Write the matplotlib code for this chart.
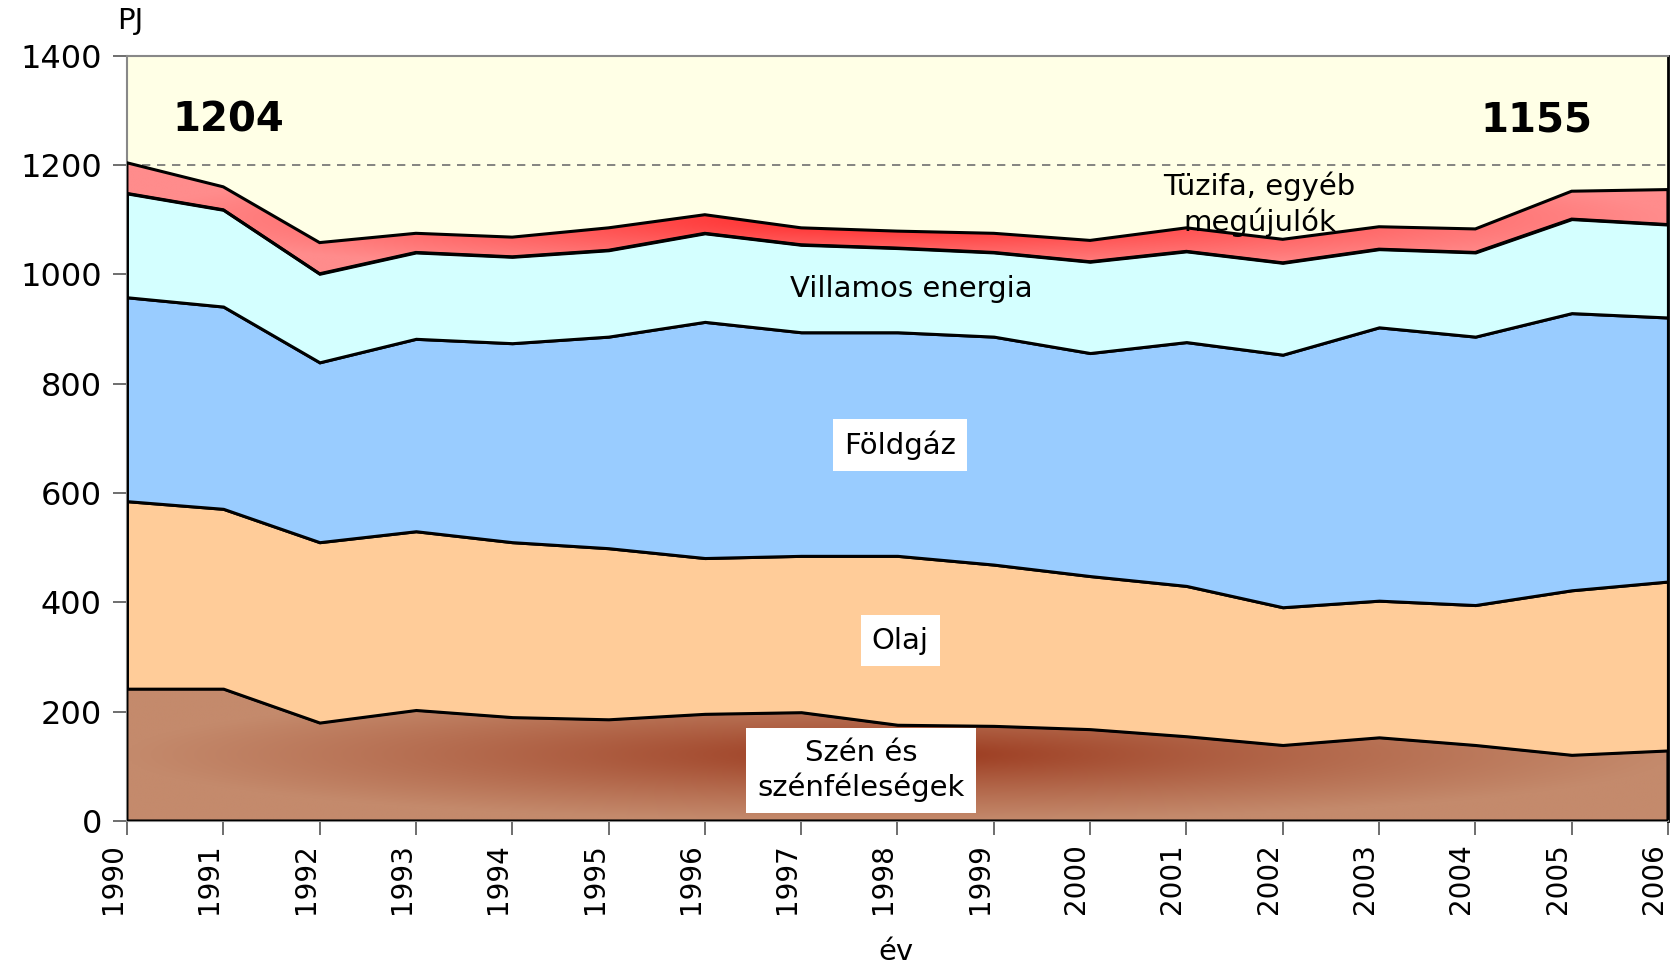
import numpy as np
import matplotlib
matplotlib.use("Agg")
import matplotlib.pyplot as plt
from matplotlib.colors import to_rgb

# adatok (PJ)
years = list(range(1990, 2007))
szen = [242, 242, 180, 203, 190, 186, 196, 199, 176, 174, 168, 155, 139, 153, 139, 121, 129]
olaj = [343, 329, 330, 327, 320, 313, 285, 286, 309, 295, 280, 275, 252, 250, 256, 301, 309]
foldgaz = [373, 370, 329, 352, 364, 387, 432, 409, 409, 417, 408, 446, 462, 500, 491, 507, 483]
villamos = [190, 177, 162, 158, 158, 158, 162, 160, 154, 154, 167, 166, 168, 143, 154, 172, 170]
tuzifa = [56, 42, 57, 35, 36, 41, 34, 31, 31, 35, 39, 43, 43, 41, 43, 51, 64]

label_first = "1204"
label_last = "1155"

x = np.array(years, dtype=float)
layers = [np.array(s, dtype=float) for s in (szen, olaj, foldgaz, villamos, tuzifa)]
tops = np.cumsum(layers, axis=0)
bottoms = np.vstack([np.zeros_like(x), tops[:-1]])

fig = plt.figure(figsize=(16.77, 9.71), dpi=100)
ax = fig.add_axes([0.0757, 0.1545, 0.9189, 0.7882])
ax.set_facecolor("#FFFFE6")

EDGE = dict(edgecolor="black", linewidth=2.2, joinstyle="miter")


def radial_fill(y1, y2, c_center, c_edge, power=1.0):
    poly = ax.fill_between(x, y1, y2, facecolor="none", zorder=4, **EDGE)
    ymin, ymax = y1.min(), y2.max()
    cx, cy = x.mean(), (ymin + ymax) / 2
    rx, ry = (x[-1] - x[0]) / 2, (ymax - ymin) / 2
    gx = np.linspace(x[0], x[-1], 500)
    gy = np.linspace(ymin, ymax, 300)
    GX, GY = np.meshgrid(gx, gy)
    t = np.clip(np.sqrt(((GX - cx) / rx) ** 2 + ((GY - cy) / ry) ** 2), 0, 1) ** power
    c0, c1 = np.array(to_rgb(c_center)), np.array(to_rgb(c_edge))
    rgb = c0 * (1 - t[..., None]) + c1 * t[..., None]
    im = ax.imshow(rgb, extent=[x[0], x[-1], ymin, ymax], origin="lower",
                   aspect="auto", zorder=3, interpolation="bilinear")
    im.set_clip_path(poly.get_paths()[0], ax.transData)


ax.axhline(1200, color="#707070", lw=1.2, ls=(0, (5, 4)), zorder=1)

# szén: barna gradiens
radial_fill(bottoms[0], tops[0], "#983318", "#C48A6C", power=0.8)
# olaj, földgáz, villamos energia: sima színek
for i, col in zip((1, 2, 3), ("#FFCC99", "#99CCFF", "#D4FFFF")):
    ax.fill_between(x, bottoms[i], tops[i], facecolor=col, zorder=4, **EDGE)
# tüzifa: piros gradiens
radial_fill(bottoms[4], tops[4], "#FF1A1A", "#FF8C8C", power=0.8)

ax.set_xlim(1990, 2006)
ax.set_ylim(0, 1400)
ax.set_xticks(years)
ax.set_xticklabels([str(y) for y in years], rotation=90, ha="right", fontsize=20)
ax.set_yticks(range(0, 1401, 200))
ax.tick_params(axis="y", labelsize=23, length=10, width=1.2, color="#555555", pad=8)
ax.tick_params(axis="x", length=10, width=1.2, color="#555555", pad=6)
for s in ("top", "left", "bottom"):
    ax.spines[s].set_color("#888888")
    ax.spines[s].set_linewidth(1.5)
ax.spines["right"].set_color("black")
ax.spines["right"].set_linewidth(2)

# feliratok
ax.text(1991.05, 1281, label_first, fontsize=29, fontweight="bold", ha="center", va="center", zorder=6)
ax.text(2004.63, 1281, label_last, fontsize=29, fontweight="bold", ha="center", va="center", zorder=6)
ax.text(2001.76, 1128, "Tüzifa, egyéb\nmegújulók", fontsize=21, ha="center", va="center",
        linespacing=1.3, zorder=6)
ax.text(1998.14, 974, "Villamos energia", fontsize=21, ha="center", va="center", zorder=6)
box = dict(facecolor="white", edgecolor="none", pad=8)
ax.text(1998.03, 688, "Földgáz", fontsize=21, ha="center", va="center", bbox=box, zorder=6)
ax.text(1998.03, 330, "Olaj", fontsize=21, ha="center", va="center", bbox=box, zorder=6)
ax.text(1997.62, 92, "Szén és\nszénféleségek", fontsize=21, ha="center", va="center",
        linespacing=1.25, bbox=box, zorder=6)

fig.text(0.070, 0.978, "PJ", fontsize=21, ha="left", va="center")
fig.text(0.534, 0.020, "év", fontsize=21, ha="center", va="center")

fig.savefig("out.png", dpi=100)
